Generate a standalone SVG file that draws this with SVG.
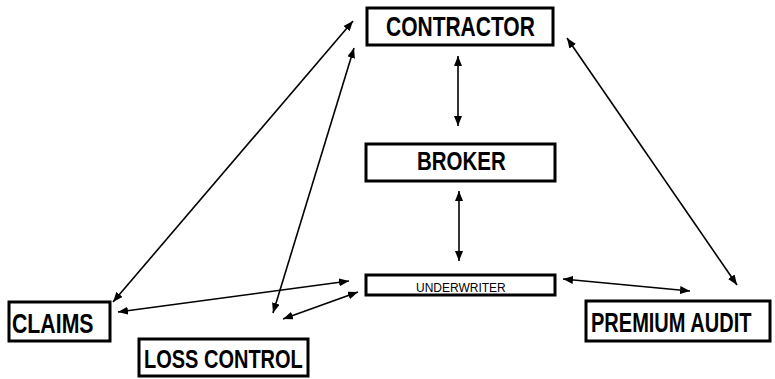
<svg xmlns="http://www.w3.org/2000/svg" width="775" height="379" viewBox="0 0 775 379">
<defs>
<marker id="ah" viewBox="0 0 10 8" refX="10" refY="4" markerWidth="10" markerHeight="8" markerUnits="userSpaceOnUse" orient="auto-start-reverse">
<path d="M0,0 L10,4 L0,8 z" fill="#000"/>
</marker>
<style>
.box{fill:#fff;stroke:#000;stroke-width:3}
.big{font-family:"Liberation Sans",Arial,sans-serif;font-weight:bold;font-size:28px;fill:#000}
.mid{font-family:"Liberation Sans",Arial,sans-serif;font-weight:bold;font-size:25px;fill:#000}
.small{font-family:"Liberation Sans",Arial,sans-serif;font-size:12px;fill:#000}
.con{stroke:#000;stroke-width:1.6;fill:none;marker-start:url(#ah);marker-end:url(#ah)}
</style>
</defs>
<rect width="775" height="379" fill="#fff"/>
<g id="connectors">
<line class="con" x1="458" y1="56" x2="458" y2="126"/>
<line class="con" x1="459" y1="191" x2="459" y2="261"/>
<line class="con" x1="353" y1="21" x2="113" y2="302"/>
<line class="con" x1="354" y1="48" x2="273" y2="313"/>
<line class="con" x1="567" y1="38" x2="737" y2="285"/>
<line class="con" x1="118" y1="312" x2="349" y2="281"/>
<line class="con" x1="283" y1="319" x2="358" y2="292"/>
<line class="con" x1="563" y1="279" x2="690" y2="291"/>
</g>
<g id="contractor">
<rect class="box" x="367" y="8" width="186" height="37"/>
<text class="big" transform="translate(386,36) scale(0.75,1)">CONTRACTOR</text>
</g>
<g id="broker">
<rect class="box" x="366" y="144" width="189" height="37"/>
<text class="mid" transform="translate(417,170) scale(0.82,1)">BROKER</text>
</g>
<g id="underwriter">
<rect class="box" x="366" y="275" width="189" height="20" stroke-width="2.5"/>
<text class="small" transform="translate(416,292) scale(1,1)">UNDERWRITER</text>
</g>
<g id="claims">
<rect class="box" x="9" y="302" width="101" height="39"/>
<text class="big" transform="translate(12,333) scale(0.76,1)">CLAIMS</text>
</g>
<g id="loss-control">
<rect class="box" x="139" y="339" width="169" height="37"/>
<text class="mid" transform="translate(144,368) scale(0.8,1)">LOSS CONTROL</text>
</g>
<g id="premium-audit">
<rect class="box" x="586" y="301" width="184" height="40"/>
<text class="big" transform="translate(591,332) scale(0.715,1)">PREMIUM AUDIT</text>
</g>
</svg>
